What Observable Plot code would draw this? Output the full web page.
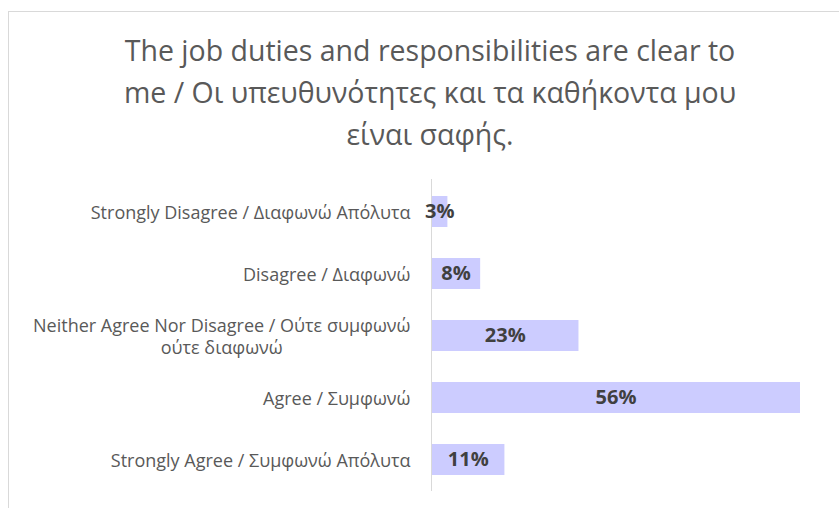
<!DOCTYPE html>
<html>
<head>
<meta charset="utf-8">
<script src="https://cdn.jsdelivr.net/npm/d3@7"></script>
<script src="https://cdn.jsdelivr.net/npm/@observablehq/plot@0.6"></script>
<style>
  html, body { margin: 0; padding: 0; background: #fff; }
  body { width: 839px; height: 508px; overflow: hidden; position: relative; font-family: "Open Sans", sans-serif; }
  #frame { position: absolute; left: 8px; top: 11px; width: 1000px; height: 1000px; border: 1px solid #d9d9d9; box-sizing: border-box; }
  #title { position: absolute; left: 0px; width: 860px; top: 29px; text-align: center; color: #595959; font-size: 28.5px; line-height: 42px; white-space: nowrap; }
  #chart { position: absolute; left: 0; top: 160px; }
</style>
</head>
<body>
<div id="frame"></div>
<div id="title"></div>
<div id="chart"></div>
<script>
const titleLines = [
  "The job duties and responsibilities are clear to",
  "me / Οι υπευθυνότητες και τα καθήκοντα μου",
  "είναι σαφής."
];
const categories = [
  "Strongly Disagree / Διαφωνώ Απόλυτα",
  "Disagree / Διαφωνώ",
  "Neither Agree Nor Disagree / Ούτε συμφωνώ\nούτε διαφωνώ",
  "Agree / Συμφωνώ",
  "Strongly Agree / Συμφωνώ Απόλυτα"
];
const values = [2.5, 7.5, 22.5, 56.3, 11.2];
const valueLabels = ["3%", "8%", "23%", "56%", "11%"];

document.getElementById("title").innerHTML = titleLines.join("<br>");

const data = categories.map((c, i) => ({category: c, value: values[i], label: valueLabels[i]}));

const chart = Plot.plot({
  width: 839,
  height: 340,
  marginLeft: 431,
  marginRight: 39,
  marginTop: 19,
  marginBottom: 9,
  style: {fontFamily: "Open Sans, sans-serif", background: "transparent"},
  x: {domain: [0, d3.max(values)], axis: null},
  y: {domain: categories, paddingInner: 0.5, paddingOuter: 0.25, label: null},
  marks: [
    Plot.barX(data, {x: "value", y: "category", fill: "#ccccff"}),
    Plot.ruleX([0], {stroke: "#d9d9d9", strokeWidth: 1}),
    Plot.axisY({tickSize: 0, tickPadding: 21, fontSize: 18, lineHeight: 1.2, fill: "#595959", label: null}),
    Plot.text(data, {x: d => d.value / 2, y: "category", text: "label", fontSize: 20, fontWeight: "bold", fill: "#404040"})
  ]
});
document.getElementById("chart").appendChild(chart);

// center the wrapped lines of multi-line tick labels under the first line
chart.querySelectorAll('g[aria-label="y-axis tick label"] text').forEach(t => {
  const spans = t.querySelectorAll("tspan");
  if (spans.length > 1) {
    const w = spans[0].getComputedTextLength();
    t.setAttribute("text-anchor", "middle");
    t.setAttribute("transform", (t.getAttribute("transform") || "") + ` translate(${-w / 2},0)`);
  }
});
</script>
</body>
</html>
